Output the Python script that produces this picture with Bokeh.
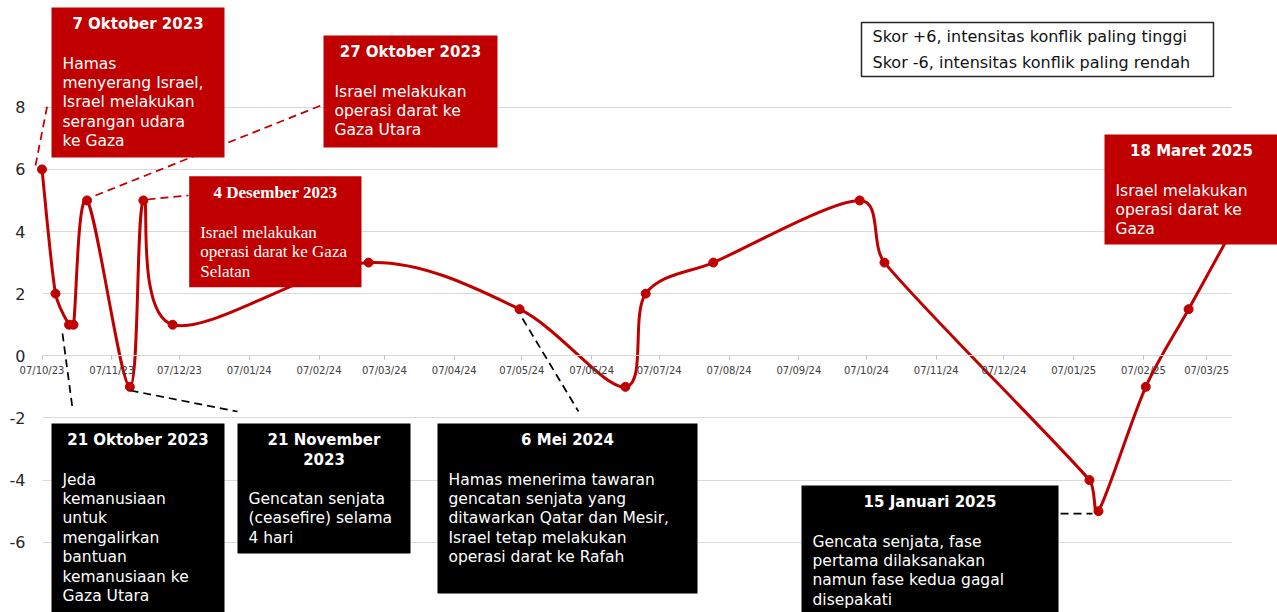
from datetime import datetime
import math
from bokeh.plotting import figure
from bokeh.models import FixedTicker, DatetimeTickFormatter, BoxAnnotation, Label, Arrow
from bokeh.embed import file_html
from bokeh.resources import INLINE

# ---------------- data ----------------
dates = ["2023-10-07", "2023-10-13", "2023-10-19", "2023-10-21", "2023-10-27",
         "2023-11-15", "2023-11-21", "2023-12-04", "2024-02-29", "2024-05-06",
         "2024-06-22", "2024-07-01", "2024-07-31", "2024-10-04", "2024-10-15",
         "2025-01-14", "2025-01-18", "2025-02-08", "2025-02-27", "2025-03-18"]
scores = [6, 2, 1, 1, 5, -1, 5, 1, 3, 1.5, -1, 2, 3, 5, 3, -4, -5, -1, 1.5, 4]

tick_dates = ["2023-10-07", "2023-11-07", "2023-12-07", "2024-01-07", "2024-02-07",
              "2024-03-07", "2024-04-07", "2024-05-07", "2024-06-07", "2024-07-07",
              "2024-08-07", "2024-09-07", "2024-10-07", "2024-11-07", "2024-12-07",
              "2025-01-07", "2025-02-07", "2025-03-07"]
tick_labels = ["07/10/23", "07/11/23", "07/12/23", "07/01/24", "07/02/24",
               "07/03/24", "07/04/24", "07/05/24", "07/06/24", "07/07/24",
               "07/08/24", "07/09/24", "07/10/24", "07/11/24", "07/12/24",
               "07/01/25", "07/02/25", "07/03/25"]
y_ticks = [-6, -4, -2, 0, 2, 4, 6, 8]
y_tick_labels = ["-6", "-4", "-2", "0", "2", "4", "6", "8"]
axis_end_date = "2025-03-18"

event_titles = [["7 Oktober 2023"], ["27 Oktober 2023"], ["4 Desember 2023"], ["18 Maret 2025"],
                ["21 Oktober 2023"], ["21 November", "2023"], ["6 Mei 2024"], ["15 Januari 2025"]]
event_bodies = [
    ["Hamas", "menyerang Israel,", "Israel melakukan", "serangan udara", "ke Gaza"],
    ["Israel melakukan", "operasi darat ke", "Gaza Utara"],
    ["Israel melakukan", "operasi darat ke Gaza", "Selatan"],
    ["Israel melakukan", "operasi darat ke", "Gaza"],
    ["Jeda", "kemanusiaan", "untuk", "mengalirkan", "bantuan", "kemanusiaan ke", "Gaza Utara"],
    ["Gencatan senjata", "(ceasefire) selama", "4 hari"],
    ["Hamas menerima  tawaran", "gencatan senjata yang", "ditawarkan Qatar dan Mesir,",
     "Israel tetap melakukan", "operasi darat ke Rafah"],
    ["Gencata senjata, fase", "pertama dilaksanakan", "namun fase kedua gagal", "disepakati"],
]
legend_lines = ["Skor +6, intensitas konflik paling tinggi",
                "Skor -6, intensitas konflik paling rendah"]

# ---------------- layout / style ----------------
RED = "#C00000"
BLACK = "#000000"
GRID = "#d9d9d9"
DAY = 86400000.0

def ms(d):
    return (datetime.fromisoformat(d) - datetime(1970, 1, 1)).total_seconds() * 1000.0

W, H = 1277, 612
ORIGIN_X = 41.5      # page x of first date
PX_DAY = 2.2526
ZERO_Y = 355.3
PX_UNIT = 31.07

x_start = ms(dates[0]) - ORIGIN_X / PX_DAY * DAY
x_end = x_start + W / PX_DAY * DAY
y_top = ZERO_Y / PX_UNIT
y_bot = (ZERO_Y - H) / PX_UNIT

def X(px):
    return x_start + px / PX_DAY * DAY

def Y(py):
    return (ZERO_Y - py) / PX_UNIT

# annotation boxes (page pixel layout): left, top, right, bottom, colour, serif
box_layout = [
    (51, 7, 224, 157, RED, False),
    (323, 35, 497, 147, RED, False),
    (188.7, 175.7, 361, 286.7, RED, True),
    (1104, 134, 1290, 244, RED, False),
    (51, 423, 224, 640, BLACK, False),
    (237, 423, 410, 553, BLACK, False),
    (437, 423, 697, 593, BLACK, False),
    (801, 485, 1058, 640, BLACK, False),
]
connectors = [
    ((35, 165), (47, 104), RED),
    ((95, 195), (323, 104), RED),
    ((147, 199), (188, 195), RED),
    ((62, 333), (72, 408), BLACK),
    ((130, 390), (237, 411), BLACK),
    ((522, 318), (578, 411), BLACK),
    ((1060, 513), (1092, 513), BLACK),
]

p = figure(width=W, height=H, x_axis_type="datetime",
           x_range=(x_start, x_end), y_range=(y_bot, y_top),
           output_backend="svg", toolbar_location=None, title=None,
           min_border=0, min_border_left=0, min_border_right=0,
           min_border_top=0, min_border_bottom=0)
p.outline_line_color = None
p.background_fill_color = "white"
p.border_fill_color = "white"

# y axis (labels left of the first date)
p.yaxis.fixed_location = X(41)
p.yaxis.ticker = FixedTicker(ticks=y_ticks, minor_ticks=[])
p.yaxis.major_label_overrides = {t: lab for t, lab in zip(y_ticks, y_tick_labels)}
p.yaxis.axis_line_color = None
p.yaxis.major_tick_line_color = None
p.yaxis.minor_tick_line_color = None
p.yaxis.major_tick_out = 0
p.yaxis.major_tick_in = 0
p.yaxis.major_label_standoff = 16
p.yaxis.major_label_text_font = "DejaVu Sans"
p.yaxis.major_label_text_font_size = "16px"
p.yaxis.major_label_text_color = "#262626"

# x axis at y = 0
tick_ms = [ms(d) for d in tick_dates]
p.xaxis.fixed_location = 0
p.xaxis.ticker = FixedTicker(ticks=tick_ms, minor_ticks=[])
fmt = DatetimeTickFormatter()
for attr in ["microseconds", "milliseconds", "seconds", "minsec", "minutes",
             "hourmin", "hours", "days", "months", "years"]:
    setattr(fmt, attr, "%d/%m/%y")
if "strip_leading_zeros" in fmt.properties():
    fmt.strip_leading_zeros = False
p.xaxis.formatter = fmt
p.xaxis.major_label_overrides = {t: lab for t, lab in zip(tick_ms, tick_labels)}
p.xaxis.bounds = (ms(dates[0]), ms(axis_end_date))
p.xaxis.axis_line_color = GRID
p.xaxis.axis_line_width = 1
p.xaxis.major_tick_line_color = "#bfbfbf"
p.xaxis.major_tick_out = 4
p.xaxis.major_tick_in = 0
p.xaxis.minor_tick_line_color = None
p.xaxis.major_label_standoff = 5
p.xaxis.major_label_text_font = "DejaVu Sans"
p.xaxis.major_label_text_font_size = "10px"
p.xaxis.major_label_text_color = "#404040"

# grid
p.xgrid.visible = False
p.ygrid.ticker = FixedTicker(ticks=y_ticks, minor_ticks=[])
p.ygrid.grid_line_color = GRID
p.ygrid.grid_line_width = 1
try:
    p.ygrid[0].cross_bounds = (ms(dates[0]), ms(axis_end_date))
except Exception:
    pass

# smoothed line: Catmull-Rom cubic Bezier segments, control arms limited
xs = [ms(d) for d in dates]
ys = [float(v) for v in scores]
n = len(xs)
sx = [x / DAY * PX_DAY for x in xs]
sy = [y * PX_UNIT for y in ys]

def arm(j, k, limit):
    ax = (sx[k] - sx[j]) / 6.0
    ay = (sy[k] - sy[j]) / 6.0
    ln = math.hypot(ax, ay)
    if ln > limit and ln > 0:
        ax, ay = ax * limit / ln, ay * limit / ln
    return ax, ay

bx0, by0, bx1, by1, cx0, cy0, cx1, cy1 = [], [], [], [], [], [], [], []
for i in range(n - 1):
    im1 = max(i - 1, 0)
    ip2 = min(i + 2, n - 1)
    chord = math.hypot(sx[i + 1] - sx[i], sy[i + 1] - sy[i])
    lim = chord / 3.0
    a0 = arm(im1, i + 1, lim)
    a1 = arm(i, ip2, lim)
    bx0.append(xs[i]); by0.append(ys[i])
    bx1.append(xs[i + 1]); by1.append(ys[i + 1])
    cx0.append((sx[i] + a0[0]) / PX_DAY * DAY)
    cy0.append((sy[i] + a0[1]) / PX_UNIT)
    cx1.append((sx[i + 1] - a1[0]) / PX_DAY * DAY)
    cy1.append((sy[i + 1] - a1[1]) / PX_UNIT)
p.bezier(x0=bx0, y0=by0, x1=bx1, y1=by1, cx0=cx0, cy0=cy0, cx1=cx1, cy1=cy1,
         line_color=RED, line_width=3, line_cap="round")
p.scatter(x=xs, y=ys, size=9, fill_color=RED, line_color=RED)

# connectors
for (ax0, ay0), (ax1, ay1), col in connectors:
    p.add_layout(Arrow(end=None, x_start=X(ax0), y_start=Y(ay0), x_end=X(ax1), y_end=Y(ay1),
                       line_color=col, line_width=1.75, line_dash="8 5"))

# boxes and texts
for (l, t, r, b, col, serif), titles, body in zip(box_layout, event_titles, event_bodies):
    p.add_layout(BoxAnnotation(left=X(l), right=X(r), top=Y(t), bottom=Y(b),
                               fill_color=col, fill_alpha=1.0, line_color=None))
    font = "Liberation Serif" if serif else "DejaVu Sans"
    tsize = "17px" if serif else "15px"
    bsize = "17px" if serif else "15.5px"
    cx = (l + min(r, 1278)) / 2.0
    ty = t + 16
    for k, line in enumerate(titles):
        p.add_layout(Label(x=X(cx), y=Y(ty + 19.4 * k), text=line, text_color="white",
                           text_font=font, text_font_size=tsize, text_font_style="bold",
                           text_align="center", text_baseline="middle"))
    by = ty + 19.4 * (len(titles) - 1) + 40
    for k, line in enumerate(body):
        p.add_layout(Label(x=X(l + 11), y=Y(by + 19.4 * k), text=line, text_color="white",
                           text_font=font, text_font_size=bsize,
                           text_align="left", text_baseline="middle"))

# score legend box
p.add_layout(BoxAnnotation(left=X(861), right=X(1213), top=Y(22), bottom=Y(76),
                           fill_color="white", fill_alpha=1.0,
                           line_color="#262626", line_alpha=1.0, line_width=1.5))
for k, line in enumerate(legend_lines):
    p.add_layout(Label(x=X(872), y=Y(36 + 26 * k), text=line, text_color="#111111",
                       text_font="DejaVu Sans", text_font_size="16px",
                       text_align="left", text_baseline="middle"))

open("out.html", "w").write(file_html(p, INLINE))
